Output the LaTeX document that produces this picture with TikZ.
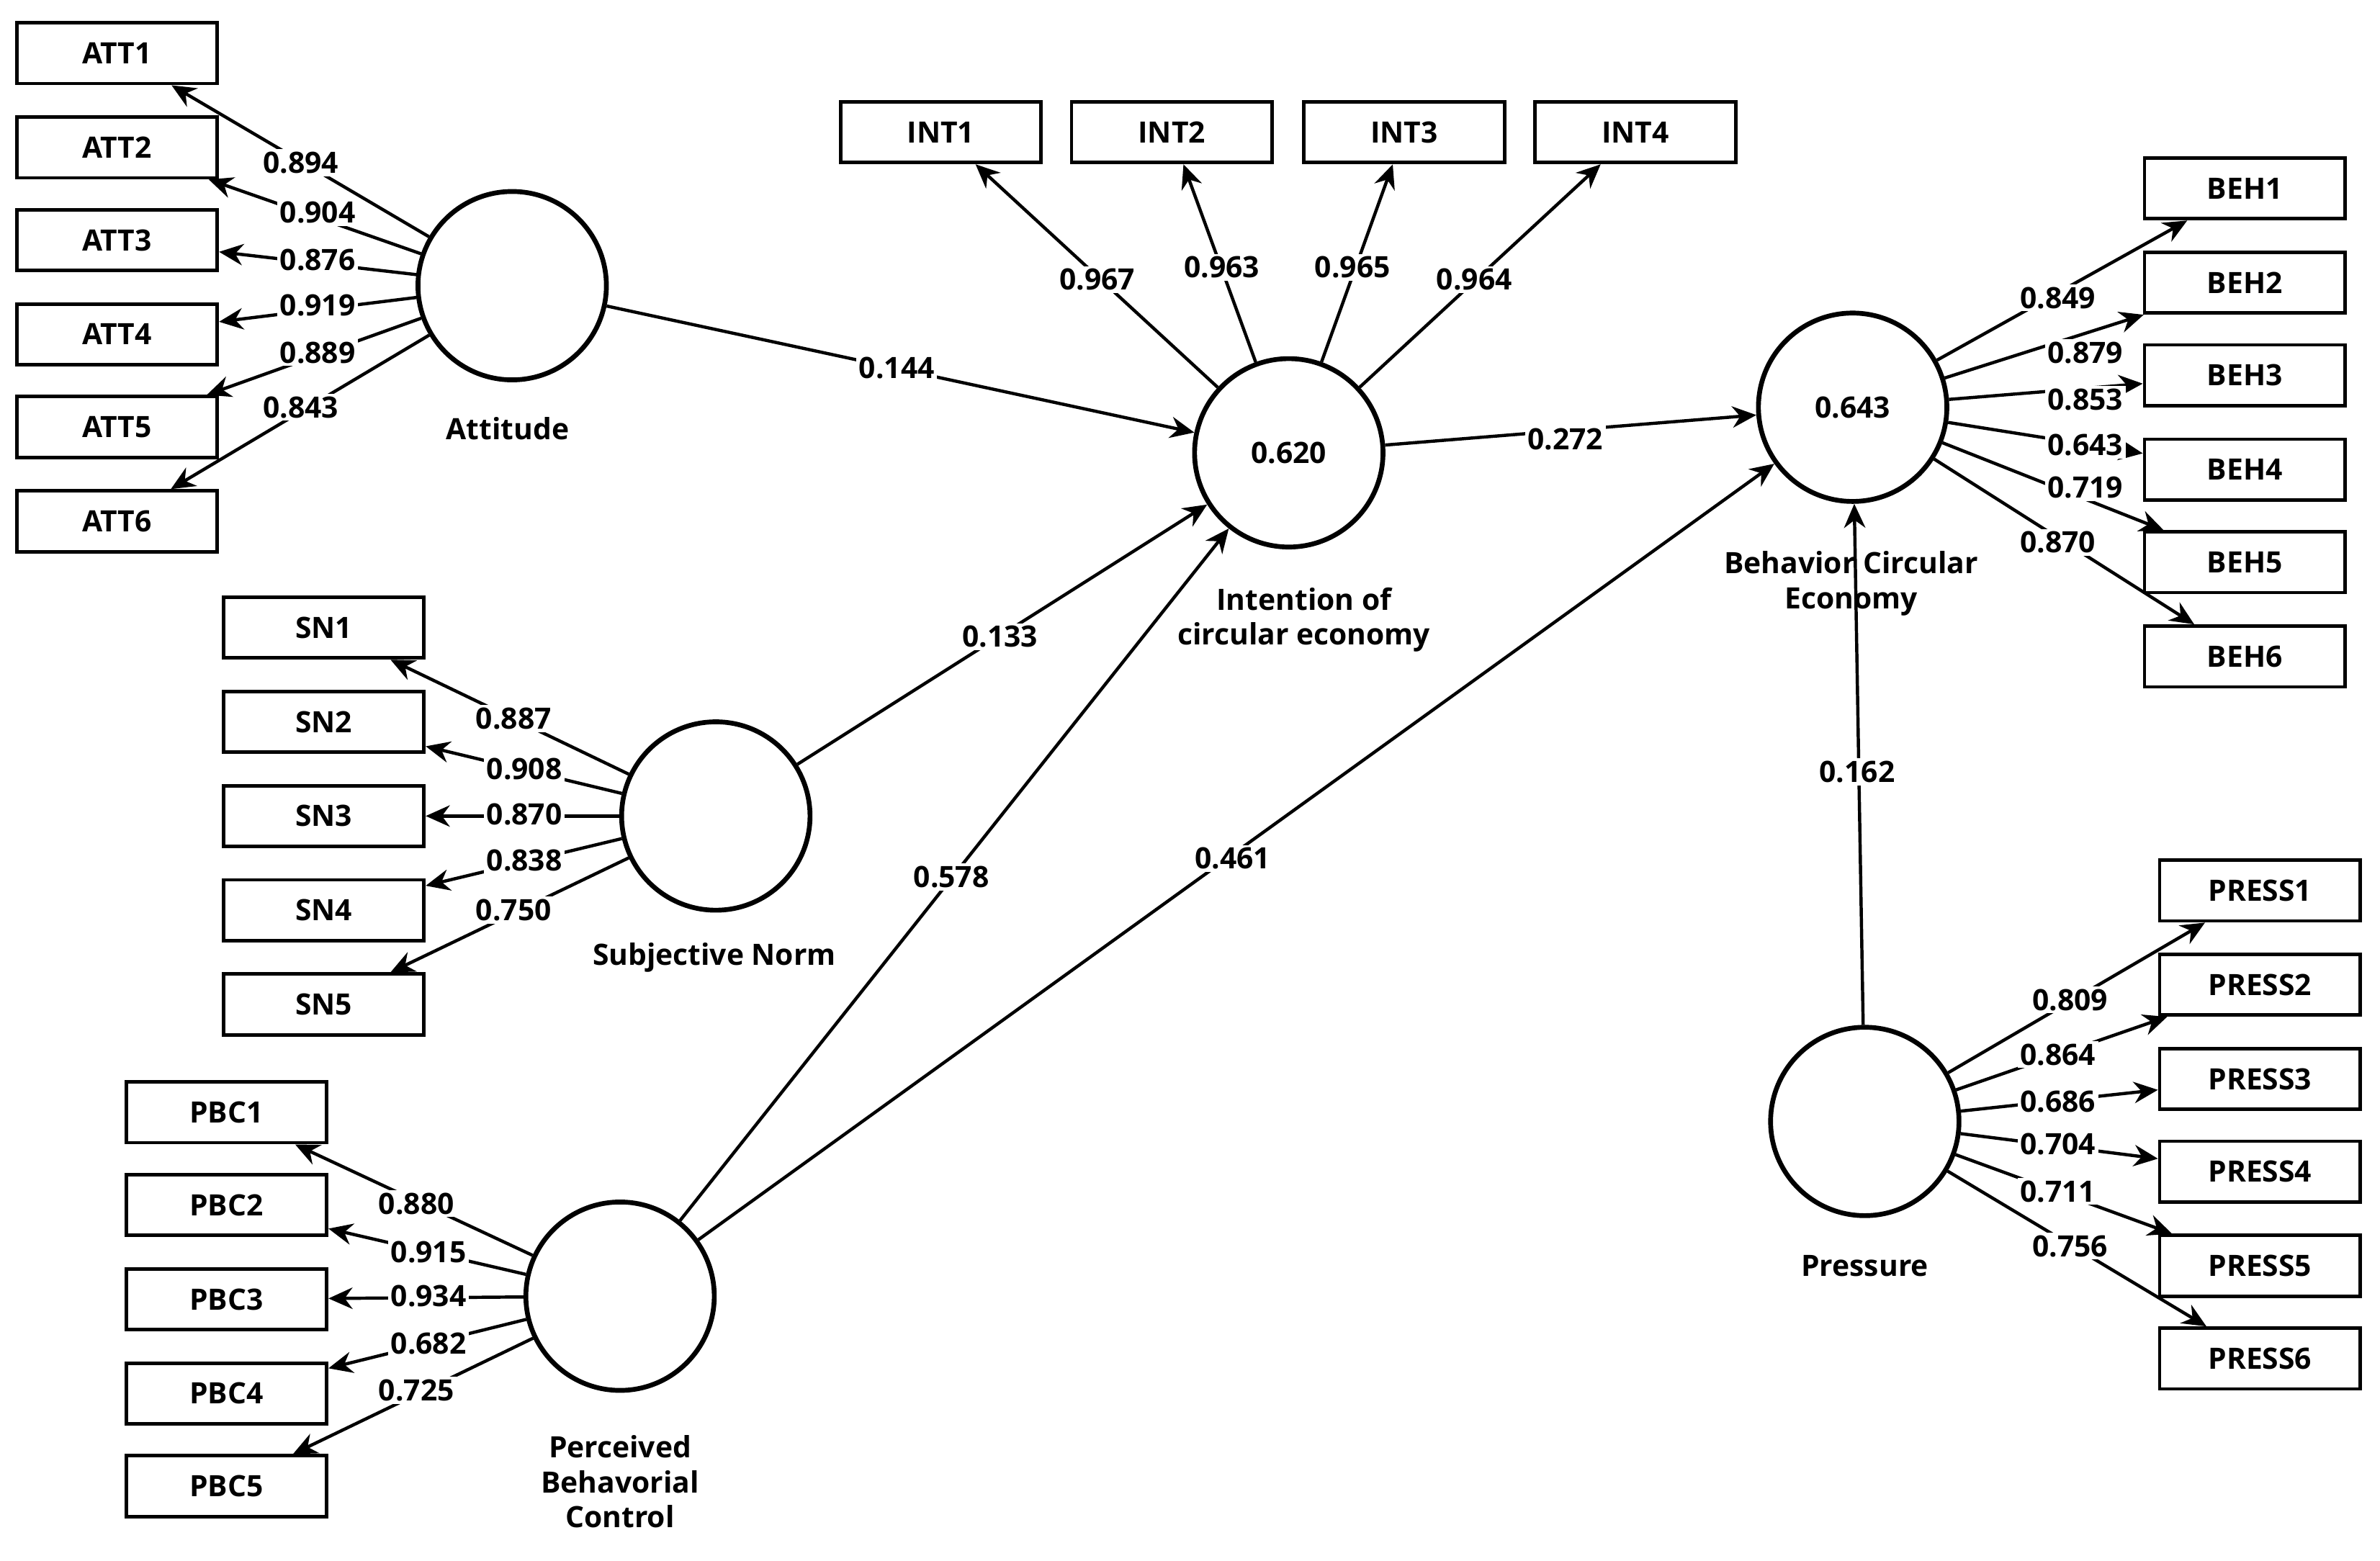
\documentclass[tikz,border=0pt]{standalone}
\usepackage{fontspec}
\setmainfont{Open Sans}
\usetikzlibrary{arrows.meta}
\begin{document}
\begin{tikzpicture}[x=0.02cm,y=-0.02cm,
  font=\fontsize{11}{13}\selectfont\bfseries,
  ind/.style={draw,line width=1.3pt,minimum width=2.64cm,minimum height=0.8cm,inner sep=0pt,fill=white},
  lat/.style={draw,circle,line width=1.8pt,minimum size=2.48cm,inner sep=0pt},
  arr/.style={line width=1.2pt,-{Stealth[length=9pt,width=8pt]}},
  lab/.style={fill=white,inner sep=1pt},
  lvname/.style={align=center}]
\useasboundingbox (0,0) rectangle (1566,1027);
% latent variables
\node[lat] (att) at (337,188) {};
\node[lat] (int) at (848,298) {0.620};
\node[lat] (beh) at (1219,268) {0.643};
\node[lat] (sn) at (471,537) {};
\node[lat] (pbc) at (408,853) {};
\node[lat] (pre) at (1227,738) {};
\node[lvname] (attc) at (334,282) {Attitude};
\node[lvname] (intc) at (858,408) {Intention of\\circular economy};
\node[lvname] (behc) at (1218,384) {Behavior Circular\\Economy};
\node[lvname] (snc) at (470,630) {Subjective Norm};
\node[lvname] (pbcc) at (408,975) {Perceived\\Behavorial\\Control};
\node[lvname] (prec) at (1227,833) {Pressure};
% indicators
\foreach \i/\y in {1/35,2/97,3/158,4/220,5/281,6/343}{\node[ind] (att\i) at (77,\y) {ATT\i};}
\foreach \i/\x in {1/619,2/771,3/924,4/1076}{\node[ind] (int\i) at (\x,87) {INT\i};}
\foreach \i/\y in {1/124,2/186,3/247,4/309,5/370,6/432}{\node[ind] (beh\i) at (1477,\y) {BEH\i};}
\foreach \i/\y in {1/413,2/475,3/537,4/599,5/661}{\node[ind] (sn\i) at (213,\y) {SN\i};}
\foreach \i/\y in {1/732,2/793,3/855,4/917,5/978}{\node[ind] (pbc\i) at (149,\y) {PBC\i};}
\foreach \i/\y in {1/586,2/648,3/710,4/771,5/833,6/894}{\node[ind] (pre\i) at (1487,\y) {PRESS\i};}
% outer loadings
\foreach \i in {1,...,6}{\draw[arr] (att) -- (att\i);}
\foreach \i in {1,...,4}{\draw[arr] (int) -- (int\i);}
\foreach \i in {1,...,6}{\draw[arr] (beh) -- (beh\i);}
\foreach \i in {1,...,5}{\draw[arr] (sn) -- (sn\i);}
\foreach \i in {1,...,5}{\draw[arr] (pbc) -- (pbc\i);}
\foreach \i in {1,...,6}{\draw[arr] (pre) -- (pre\i);}
\foreach \v/\x/\y in {0.894/198/107,0.904/209/140,0.876/209/171,0.919/209/201,0.889/209/232,0.843/198/268,
 0.967/722/184,0.963/804/176,0.965/890/176,0.964/970/184,
 0.849/1354/196,0.879/1372/232,0.853/1372/263,0.643/1372/293,0.719/1372/321,0.870/1354/357,
 0.887/338/473,0.908/345/506,0.870/345/536,0.838/345/566,0.750/338/599,
 0.880/274/792,0.915/282/824,0.934/282/853,0.682/282/884,0.725/274/915,
 0.809/1362/658,0.864/1354/694,0.686/1354/725,0.704/1354/753,0.711/1354/784,0.756/1362/820}
 {\node[lab] at (\x,\y) {\v};}
% structural paths
\draw[arr] (att) -- (int);
\draw[arr] (sn) -- (int);
\draw[arr] (pbc) -- (int);
\draw[arr] (pbc) -- (beh);
\draw[arr] (int) -- (beh);
\draw[arr] (pre) -- (beh);
\node[lab] (p1) at (590,242) {0.144};
\node[lab] (p2) at (658,419) {0.133};
\node[lab] (p3) at (626,577) {0.578};
\node[lab] (p4) at (811,565) {0.461};
\node[lab] (p5) at (1030,289) {0.272};
\node[lab] (p6) at (1222,508) {0.162};
\end{tikzpicture}
\end{document}
